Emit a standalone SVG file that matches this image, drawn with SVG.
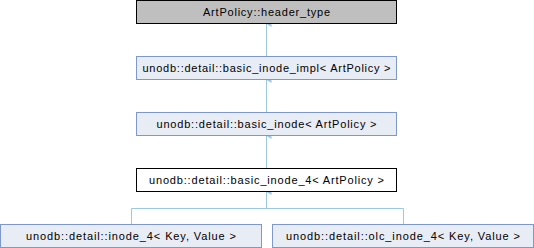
<svg xmlns="http://www.w3.org/2000/svg" width="534" height="248" viewBox="0 0 534 248">
  <style>
    .box { fill: #e8ecf5; stroke: #7f98cc; stroke-width: 1; }
    .cur { fill: #ffffff; stroke: #000000; stroke-width: 1; }
    .ext { fill: #bfbfbf; stroke: #000000; stroke-width: 1; }
    .lbl { font-family: "Liberation Sans", Arial, sans-serif; font-size: 11px; fill: #000000; text-anchor: middle; }
    .edge { fill: none; stroke: #9cc8e6; stroke-width: 1; }
  </style>
  <defs>
    <marker id="head" viewBox="0 0 6 6" refX="3" refY="0" markerWidth="6" markerHeight="6" markerUnits="userSpaceOnUse" orient="auto-start-reverse">
      <path d="M3,0 L6,5 L0,5 Z" fill="#9cc8e6"/>
    </marker>
  </defs>

  <g id="connectors">
    <path class="edge" d="M266.5,56 V24" marker-end="url(#head)"/>
    <path class="edge" d="M266.5,112 V80" marker-end="url(#head)"/>
    <path class="edge" d="M266.5,168 V136" marker-end="url(#head)"/>
    <path class="edge" d="M266.5,208.5 V192" marker-end="url(#head)"/>
    <path class="edge" d="M131.5,224 V208.5 H403.5 V224"/>
  </g>

  <g id="header_type">
    <rect class="ext" x="136.5" y="0.5" width="260" height="23"/>
    <text class="lbl" x="266.5" y="15.5" textLength="127" lengthAdjust="spacing">ArtPolicy::header_type</text>
  </g>

  <g id="basic_inode_impl">
    <rect class="box" x="136.5" y="56.5" width="260" height="23"/>
    <text class="lbl" x="266.5" y="71.5" textLength="248" lengthAdjust="spacing">unodb::detail::basic_inode_impl&lt; ArtPolicy &gt;</text>
  </g>

  <g id="basic_inode">
    <rect class="box" x="136.5" y="112.5" width="260" height="23"/>
    <text class="lbl" x="266.5" y="127.5" textLength="220" lengthAdjust="spacing">unodb::detail::basic_inode&lt; ArtPolicy &gt;</text>
  </g>

  <g id="basic_inode_4">
    <rect class="cur" x="136.5" y="168.5" width="260" height="23"/>
    <text class="lbl" x="266.5" y="183.5" textLength="235" lengthAdjust="spacing">unodb::detail::basic_inode_4&lt; ArtPolicy &gt;</text>
  </g>

  <g id="inode_4">
    <rect class="box" x="0.5" y="224.5" width="261" height="23"/>
    <text class="lbl" x="131" y="239.5" textLength="210" lengthAdjust="spacing">unodb::detail::inode_4&lt; Key, Value &gt;</text>
  </g>

  <g id="olc_inode_4">
    <rect class="box" x="272.5" y="224.5" width="261" height="23"/>
    <text class="lbl" x="403" y="239.5" textLength="234" lengthAdjust="spacing">unodb::detail::olc_inode_4&lt; Key, Value &gt;</text>
  </g>
</svg>
